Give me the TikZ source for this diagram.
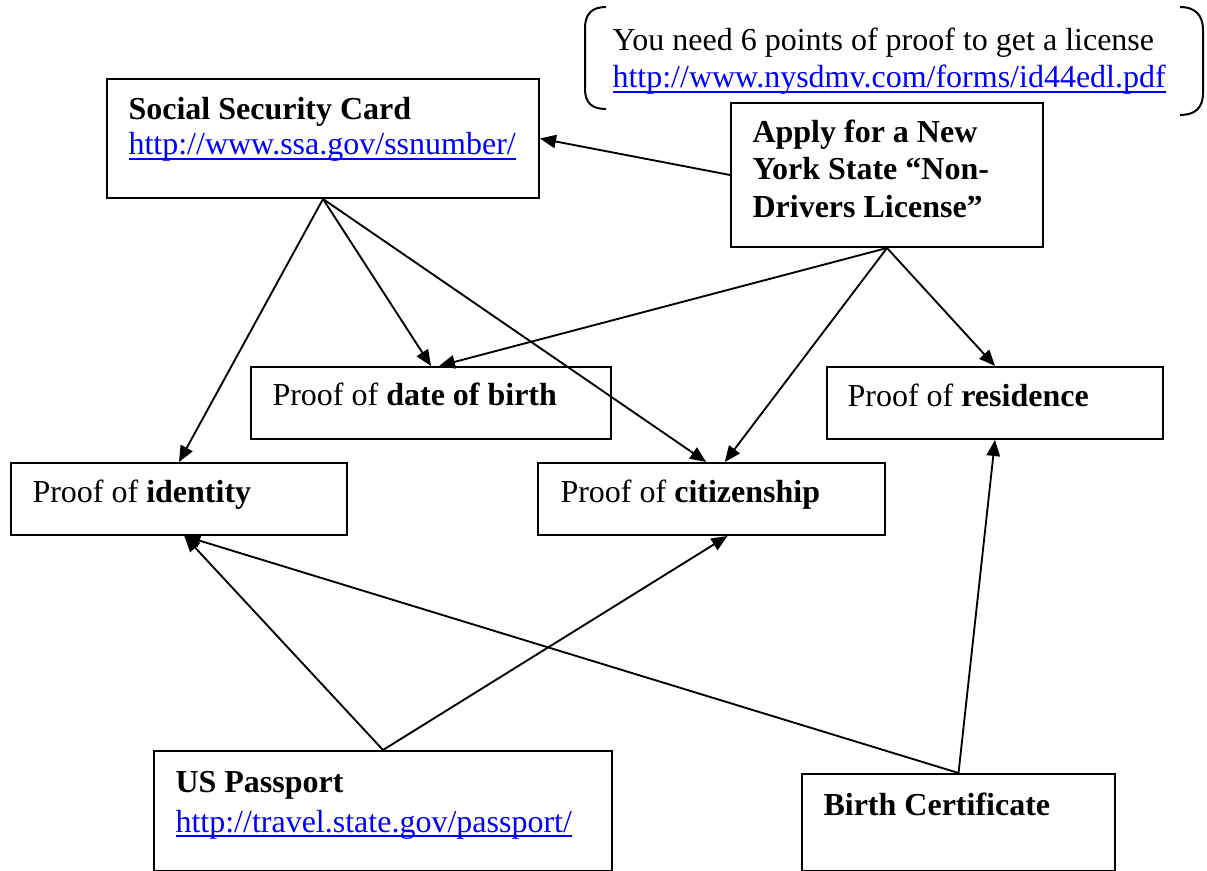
\documentclass[tikz,border=0pt]{standalone}
\usepackage{fontspec}
\setmainfont{Liberation Serif}
\usetikzlibrary{fit,arrows.meta}
\definecolor{linkblue}{RGB}{0,0,255}
\newcommand{\lnk}[1]{\textcolor{linkblue}{\setbox0\hbox{#1}\rlap{\rule[-1.9pt]{\wd0}{0.6pt}}\box0}}
\begin{document}
\begin{tikzpicture}[x=0.375pt,y=-0.375pt,
  font=\fontsize{12}{14}\selectfont,
  box/.style={draw,line width=0.75pt,inner sep=0pt},
  txt/.style={inner sep=0pt,anchor=base west},
  conn/.style={line width=0.7pt,-{Triangle[length=6pt,width=5pt]}}]
\useasboundingbox (0,0) rectangle (1207,871);
% boxes
\node[box,fit={(107,79) (539,198)}] (ssc) {};
\node[box,fit={(731,103) (1043,247)}] (apply) {};
\node[box,fit={(11,463) (347,535)}] (ident) {};
\node[box,fit={(251,367) (611,439)}] (dob) {};
\node[box,fit={(538,463) (885,535)}] (cit) {};
\node[box,fit={(827,367) (1163,439)}] (res) {};
\node[box,fit={(154,751) (612,871)}] (pass) {};
\node[box,fit={(802,774) (1115,871)}] (birth) {};
% texts
\node[txt] (ssct) at (128,120) {\textbf{Social Security Card}};
\node[txt] (sscu) at (128,155) {\lnk{http://www.ssa.gov/ssnumber/}};
\node[txt] (ap1) at (752,143) {\textbf{Apply for a New}};
\node[txt] (ap2) at (752,180) {\textbf{York State “Non-}};
\node[txt] (ap3) at (752,218) {\textbf{Drivers License”}};
\node[txt] (dobt) at (272,406) {Proof of \textbf{date of birth}};
\node[txt] (idt) at (32,503) {Proof of \textbf{identity}};
\node[txt] (citt) at (560,503) {Proof of \textbf{citizenship}};
\node[txt] (rest) at (847,407) {Proof of \textbf{residence}};
\node[txt] (passt) at (175,792) {\textbf{US Passport}};
\node[txt] (passu) at (175,832) {\lnk{http://travel.state.gov/passport/}};
\node[txt] (birtht) at (823,815) {\textbf{Birth Certificate}};
\node[txt] (note1) at (612,51) {You need 6 points of proof to get a license};
\node[txt] (note2) at (612,88) {\lnk{http://www.nysdmv.com/forms/id44edl.pdf}};
% bracket pair
\draw[line width=0.75pt] (606,7) .. controls (592,7) and (585,14) .. (585,28) -- (585,89) .. controls (585,103) and (592,109) .. (606,109);
\draw[line width=0.75pt] (1180,7) .. controls (1195,7) and (1203,15) .. (1203,30) -- (1203,93) .. controls (1203,108) and (1195,115) .. (1180,115);
% connectors
\draw[conn] (apply.west) -- (ssc.east);
\draw[conn] (ssc.south) -- (ident.north);
\draw[conn] (ssc.south) -- (dob.north);
\draw[conn] (ssc.south) -- ([xshift=-2]cit.north);
\draw[conn] (apply.south) -- ([xshift=3]dob.north);
\draw[conn] (apply.south) -- ([xshift=5]cit.north);
\draw[conn] (apply.south) -- (res.north);
\draw[conn] (pass.north) -- ([xshift=2]ident.south);
\draw[conn] (pass.north) -- ([xshift=6]cit.south);
\draw[conn] (birth.north) -- ([xshift=2]ident.south);
\draw[conn] (birth.north) -- (res.south);
\end{tikzpicture}
\end{document}
